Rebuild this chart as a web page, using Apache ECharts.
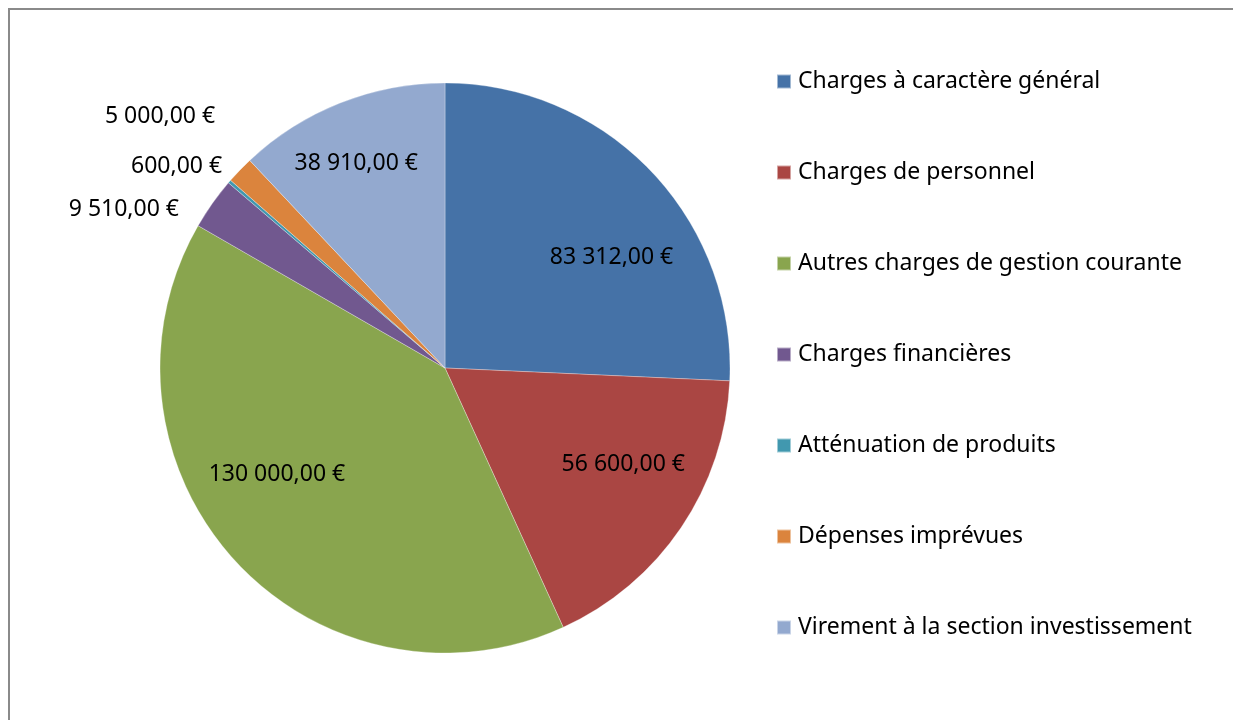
<!DOCTYPE html>
<html>
<head>
<meta charset="utf-8">
<script src="https://cdn.jsdelivr.net/npm/echarts@6/dist/echarts.min.js"></script>
<style>
body { margin: 0; background: #fff; }
#wrap { position: relative; width: 1233px; height: 720px; }
#pie1 { width: 1233px; height: 720px; }
#frame {
    position: absolute; left: 8px; top: 8px; right: 0; bottom: 0;
    border-top: 2px solid #8a8a8a; border-left: 2px solid #8a8a8a;
    pointer-events: none;
}
</style>
</head>
<body>
<div id="wrap">
    <div id="pie1"></div>
    <div id="frame"></div>
</div>
<script>
const categories = [
    'Charges à caractère général',
    'Charges de personnel',
    'Autres charges de gestion courante',
    'Charges financières',
    'Atténuation de produits',
    'Dépenses imprévues',
    'Virement à la section investissement'
];
const values = [83312, 56600, 130000, 9510, 600, 5000, 38910];
const colors = ['#4572A7', '#AA4643', '#89A54E', '#71588F', '#4198AF', '#DB843D', '#93A9CF'];
// petits secteurs : étiquette à l'extérieur
const outsideIdx = [3, 4, 5];

function euro(v) {
    const s = String(Math.round(v)).replace(/\B(?=(\d{3})+(?!\d))/g, ' ');
    return s + ',00 €';
}

// petits décalages des étiquettes (placement "ajustement optimal" d'Excel)
const nudgeOut = { 3: [-14, -5], 4: [13, -23], 5: [-14, -48] };
const nudgeIn = { 0: [18, 31], 1: [8, -19], 2: [-16, -32], 6: [-13, -14] };

const myChart = echarts.init(document.getElementById('pie1'));
const fontFamily = '"Noto Sans", Lato, sans-serif';

const option = {
    color: colors,
    animation: false,
    legend: {
        orient: 'vertical',
        left: 771,
        top: 65,
        itemWidth: 14,
        itemHeight: 14,
        itemGap: 68,
        icon: 'rect',
        textStyle: { fontSize: 23, lineHeight: 23, color: '#000', fontFamily: fontFamily, padding: [0, 0, 0, 2] },
        data: categories
    },
    series: [
        {
            name: 'charges',
            type: 'pie',
            center: [445, 368],
            radius: [0, 285],
            startAngle: 90,
            clockwise: true,
            avoidLabelOverlap: true,
            itemStyle: { borderColor: 'rgba(255,255,255,0.5)', borderWidth: 0.6 },
            label: {
                show: true,
                position: 'outside',
                fontSize: 23,
                color: '#000',
                fontFamily: fontFamily,
                formatter: p => euro(p.value)
            },
            labelLine: { show: false, length: 8, length2: 0 },
            labelLayout: p => {
                const d = nudgeOut[p.dataIndex];
                return d ? { dx: d[0], dy: d[1] } : {};
            },
            emphasis: { disabled: true },
            data: categories.map((c, i) => ({
                name: c,
                value: values[i],
                label: { show: outsideIdx.includes(i) }
            }))
        },
        {
            // étiquettes intérieures des grands secteurs
            name: 'labels',
            type: 'pie',
            center: [445, 368],
            radius: [120, 285],
            startAngle: 90,
            clockwise: true,
            silent: true,
            legendHoverLink: false,
            itemStyle: { color: 'rgba(0,0,0,0)' },
            label: {
                show: true,
                position: 'inside',
                fontSize: 23,
                color: '#000',
                fontFamily: fontFamily,
                formatter: p => euro(p.value)
            },
            labelLine: { show: false },
            labelLayout: p => {
                const d = nudgeIn[p.dataIndex];
                return d ? { dx: d[0], dy: d[1] } : {};
            },
            emphasis: { disabled: true },
            data: categories.map((c, i) => ({
                name: c,
                value: values[i],
                label: { show: !outsideIdx.includes(i) }
            }))
        }
    ]
};
myChart.setOption(option);
</script>
</body>
</html>
